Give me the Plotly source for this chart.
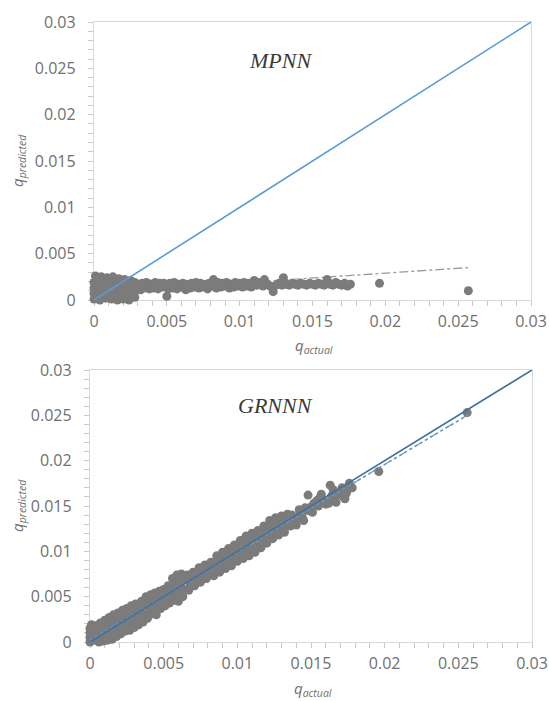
import plotly.graph_objects as go

# ---------------- data ----------------
# MPNN: (q_actual, q_predicted)
mpnn_x = [0.0000, 0.0000, 0.0000, 0.0000, 0.0001,
          0.0004, 0.0004, 0.0005, 0.0004, 0.0005,
          0.0008, 0.0008, 0.0009, 0.0008, 0.0009,
          0.0012, 0.0012, 0.0013, 0.0012, 0.0013,
          0.0016, 0.0016, 0.0017, 0.0016, 0.0017,
          0.0020, 0.0020, 0.0021, 0.0020, 0.0021,
          0.0024, 0.0024, 0.0025, 0.0024, 0.0025,
          0.0028, 0.0028, 0.0029, 0.0028,
          0.0032, 0.0033, 0.0035, 0.0036, 0.0038, 0.0039, 0.0041, 0.0042, 0.0044, 0.0045,
          0.0047, 0.0048, 0.0050, 0.0051, 0.0052, 0.0054, 0.0055, 0.0057, 0.0058, 0.0060,
          0.0061, 0.0063, 0.0064, 0.0066, 0.0067, 0.0069, 0.0070, 0.0072, 0.0073, 0.0075,
          0.0076, 0.0078, 0.0079, 0.0081, 0.0082, 0.0084, 0.0085, 0.0087, 0.0088, 0.0090,
          0.0091, 0.0093, 0.0094, 0.0096, 0.0097, 0.0099, 0.0100, 0.0102, 0.0103, 0.0105,
          0.0106, 0.0108, 0.0110,
          0.0112, 0.0114, 0.0116, 0.0117, 0.0119, 0.0121, 0.0123, 0.0125, 0.0127, 0.0129,
          0.0130, 0.0132, 0.0134, 0.0136, 0.0138, 0.0140, 0.0142, 0.0144, 0.0146, 0.0148,
          0.0150, 0.0152, 0.0154, 0.0156, 0.0158, 0.0160, 0.0162, 0.0164, 0.0166, 0.0168,
          0.0170, 0.0172, 0.0174, 0.0176,
          0.0196, 0.0257]
mpnn_y = [0.0001, 0.0007, 0.0013, 0.0019, 0.0026,
          0.0000, 0.0006, 0.0012, 0.0018, 0.0025,
          0.0002, 0.0008, 0.0014, 0.0020, 0.0024,
          0.0001, 0.0007, 0.0013, 0.0019, 0.0025,
          0.0000, 0.0006, 0.0012, 0.0018, 0.0023,
          0.0001, 0.0007, 0.0013, 0.0019, 0.0022,
          0.0000, 0.0006, 0.0012, 0.0018, 0.0021,
          0.0003, 0.0009, 0.0014, 0.0019,
          0.0011, 0.0018, 0.0013, 0.0019, 0.0012, 0.0017, 0.0013, 0.0019, 0.0012, 0.0018,
          0.0014, 0.0018, 0.0004, 0.0012, 0.0018, 0.0013, 0.0019, 0.0012, 0.0017, 0.0014,
          0.0018, 0.0011, 0.0017, 0.0013, 0.0018, 0.0014, 0.0019, 0.0013, 0.0018, 0.0014,
          0.0017, 0.0012, 0.0018, 0.0015, 0.0022, 0.0013, 0.0019, 0.0014, 0.0018, 0.0015,
          0.0019, 0.0013, 0.0017, 0.0014, 0.0019, 0.0015, 0.0018, 0.0014, 0.0019, 0.0015,
          0.0018, 0.0014, 0.0021,
          0.0016, 0.0019, 0.0015, 0.0022, 0.0017, 0.0015, 0.0009, 0.0016, 0.0018, 0.0016,
          0.0024, 0.0017, 0.0016, 0.0018, 0.0017, 0.0016, 0.0018, 0.0017, 0.0016, 0.0018,
          0.0017, 0.0016, 0.0018, 0.0017, 0.0016, 0.0022, 0.0017, 0.0016, 0.0019, 0.0017,
          0.0016, 0.0018, 0.0015, 0.0017,
          0.0018, 0.0010]
mpnn_trend_x = [0.0, 0.0257]
mpnn_trend_y = [0.0008, 0.0035]

# GRNNN: (q_actual, q_predicted)
grnn_x = [0.0000, 0.0000, 0.0000, 0.0000, 0.0001,
          0.0003, 0.0003, 0.0003, 0.0004,
          0.0006, 0.0006, 0.0006, 0.0007,
          0.0009, 0.0009, 0.0010, 0.0010,
          0.0012, 0.0012, 0.0013, 0.0013,
          0.0015, 0.0015, 0.0016, 0.0016,
          0.0018, 0.0018, 0.0019, 0.0019,
          0.0021, 0.0021, 0.0022, 0.0022,
          0.0024, 0.0024, 0.0025, 0.0025,
          0.0027, 0.0027, 0.0028, 0.0028,
          0.0030, 0.0030, 0.0031, 0.0031,
          0.0033, 0.0033, 0.0034, 0.0035,
          0.0036, 0.0036, 0.0037, 0.0038,
          0.0039, 0.0040, 0.0040, 0.0041,
          0.0042, 0.0043, 0.0043, 0.0044,
          0.0045, 0.0046, 0.0046, 0.0047,
          0.0048, 0.0049, 0.0049, 0.0050,
          0.0051, 0.0052, 0.0052, 0.0053,
          0.0054, 0.0055, 0.0055, 0.0056,
          0.0057, 0.0058, 0.0058, 0.0059,
          0.0060, 0.0061, 0.0061, 0.0062,
          0.0063, 0.0064, 0.0065, 0.0066,
          0.0067, 0.0068, 0.0069, 0.0070,
          0.0071, 0.0072, 0.0073, 0.0074,
          0.0075, 0.0076, 0.0077, 0.0078,
          0.0079, 0.0080, 0.0081, 0.0082,
          0.0084, 0.0085, 0.0084, 0.0086,
          0.0088, 0.0089, 0.0088, 0.0090,
          0.0092, 0.0093, 0.0092, 0.0094,
          0.0096, 0.0097, 0.0096, 0.0098,
          0.0100, 0.0101, 0.0100, 0.0102,
          0.0104, 0.0105, 0.0104, 0.0106,
          0.0108, 0.0109, 0.0108, 0.0110,
          0.0112, 0.0113, 0.0112, 0.0114,
          0.0116, 0.0117, 0.0116, 0.0118,
          0.0120, 0.0121, 0.0120, 0.0122,
          0.0124, 0.0125, 0.0124, 0.0126,
          0.0128, 0.0129, 0.0128, 0.0130,
          0.0132, 0.0133, 0.0132, 0.0134,
          0.0136, 0.0138, 0.0139, 0.0141, 0.0143, 0.0144, 0.0146, 0.0148, 0.0148, 0.0150,
          0.0152, 0.0154, 0.0156, 0.0158, 0.0160, 0.0162, 0.0163, 0.0164, 0.0166, 0.0168,
          0.0170, 0.0172, 0.0173, 0.0175, 0.0176, 0.0178,
          0.0137, 0.0140, 0.0142, 0.0145, 0.0151, 0.0155, 0.0157, 0.0165, 0.0167, 0.0171,
          0.0174,
          0.0196, 0.0256]
grnn_y = [0.0000, 0.0005, 0.0010, 0.0015, 0.0019,
          0.0002, 0.0008, 0.0013, 0.0018,
          0.0000, 0.0006, 0.0012, 0.0021,
          0.0001, 0.0009, 0.0016, 0.0024,
          0.0002, 0.0010, 0.0019, 0.0027,
          0.0003, 0.0011, 0.0022, 0.0030,
          0.0006, 0.0014, 0.0025, 0.0032,
          0.0009, 0.0017, 0.0028, 0.0035,
          0.0012, 0.0020, 0.0031, 0.0037,
          0.0013, 0.0022, 0.0033, 0.0040,
          0.0016, 0.0024, 0.0036, 0.0042,
          0.0019, 0.0028, 0.0038, 0.0045,
          0.0022, 0.0031, 0.0041, 0.0050,
          0.0026, 0.0034, 0.0044, 0.0052,
          0.0031, 0.0037, 0.0047, 0.0054,
          0.0030, 0.0040, 0.0050, 0.0056,
          0.0037, 0.0043, 0.0052, 0.0058,
          0.0040, 0.0046, 0.0055, 0.0062,
          0.0043, 0.0049, 0.0059, 0.0070,
          0.0046, 0.0052, 0.0063, 0.0074,
          0.0045, 0.0055, 0.0066, 0.0075,
          0.0050, 0.0058, 0.0069, 0.0074,
          0.0057, 0.0062, 0.0071, 0.0077,
          0.0062, 0.0066, 0.0074, 0.0082,
          0.0066, 0.0070, 0.0078, 0.0085,
          0.0070, 0.0075, 0.0082, 0.0088,
          0.0073, 0.0080, 0.0088, 0.0095,
          0.0077, 0.0084, 0.0092, 0.0099,
          0.0081, 0.0088, 0.0096, 0.0103,
          0.0084, 0.0092, 0.0100, 0.0107,
          0.0089, 0.0096, 0.0105, 0.0112,
          0.0092, 0.0100, 0.0109, 0.0117,
          0.0095, 0.0103, 0.0112, 0.0120,
          0.0099, 0.0106, 0.0115, 0.0123,
          0.0104, 0.0111, 0.0119, 0.0128,
          0.0109, 0.0116, 0.0125, 0.0134,
          0.0114, 0.0121, 0.0129, 0.0137,
          0.0118, 0.0125, 0.0133, 0.0139,
          0.0121, 0.0128, 0.0135, 0.0141,
          0.0128, 0.0133, 0.0138, 0.0135, 0.0141, 0.0138, 0.0148, 0.0162, 0.0145, 0.0149,
          0.0153, 0.0156, 0.0159, 0.0157, 0.0152, 0.0153, 0.0173, 0.0161, 0.0160, 0.0163,
          0.0164, 0.0160, 0.0158, 0.0168, 0.0175, 0.0170,
          0.0140, 0.0129, 0.0146, 0.0134, 0.0143, 0.0150, 0.0163, 0.0168, 0.0154, 0.0170,
          0.0164,
          0.0188, 0.0253]
grnn_trend_x = [0.0, 0.0257]
grnn_trend_y = [0.0002, 0.0251]

ideal_x = [0.0, 0.03]
ideal_y = [0.0, 0.03]

tick_vals = [0, 0.005, 0.01, 0.015, 0.02, 0.025, 0.03]
tick_text = ["0", "0.005", "0.01", "0.015", "0.02", "0.025", "0.03"]

# ---------------- figure ----------------
W, H = 549, 701


def px(p):
    return p / W


def py(p):
    return 1 - p / H


GREY = "#7b7b7b"
fig = go.Figure()

fig.add_trace(go.Scatter(x=mpnn_trend_x, y=mpnn_trend_y, mode="lines",
                         line=dict(color="#9a9a9a", width=1.3, dash="dashdot"),
                         xaxis="x", yaxis="y", showlegend=False))
fig.add_trace(go.Scatter(x=mpnn_x, y=mpnn_y, mode="markers",
                         marker=dict(size=9, color=GREY), cliponaxis=False,
                         xaxis="x", yaxis="y", showlegend=False))
fig.add_trace(go.Scatter(x=ideal_x, y=ideal_y, mode="lines",
                         line=dict(color="#5B9BD5", width=1.6),
                         xaxis="x", yaxis="y", showlegend=False))

fig.add_trace(go.Scatter(x=grnn_trend_x, y=grnn_trend_y, mode="lines",
                         line=dict(color="#9a9a9a", width=1.3, dash="dashdot"),
                         xaxis="x2", yaxis="y2", showlegend=False))
fig.add_trace(go.Scatter(x=grnn_x, y=grnn_y, mode="markers",
                         marker=dict(size=9, color=GREY), cliponaxis=False,
                         xaxis="x2", yaxis="y2", showlegend=False))
fig.add_trace(go.Scatter(x=grnn_trend_x, y=grnn_trend_y, mode="lines",
                         line=dict(color="#5B9BD5", width=1.4, dash="dot"),
                         xaxis="x2", yaxis="y2", showlegend=False))
fig.add_trace(go.Scatter(x=ideal_x, y=ideal_y, mode="lines",
                         line=dict(color="#41719C", width=1.6),
                         xaxis="x2", yaxis="y2", showlegend=False))

axis_common = dict(range=[0, 0.03], tickvals=tick_vals, ticktext=tick_text,
                   showgrid=False, zeroline=False, showline=True, mirror=True,
                   linecolor="#d9d9d9", linewidth=1.2, automargin=False,
                   ticks="outside", ticklen=5, tickcolor="#c8c8c8", tickwidth=1,
                   minor=dict(dtick=0.001, ticks="outside", ticklen=5,
                              tickcolor="#c8c8c8", tickwidth=1),
                   tickfont=dict(family="Open Sans", size=16, color="#707070"),
                   layer="below traces", fixedrange=True)
xcommon = dict(axis_common, ticklabelstandoff=2)
ycommon = dict(axis_common, ticklabelstandoff=9)

fig.update_layout(
    width=W, height=H,
    margin=dict(l=0, r=0, t=0, b=0, autoexpand=False),
    paper_bgcolor="white", plot_bgcolor="white",
    hovermode=False,
    xaxis=dict(domain=[px(94), px(531)], anchor="y", **xcommon),
    yaxis=dict(domain=[py(300), py(22)], anchor="x", **ycommon),
    xaxis2=dict(domain=[px(90), px(532)], anchor="y2", **xcommon),
    yaxis2=dict(domain=[py(642), py(370)], anchor="x2", **ycommon),
)

title_font = dict(family="Open Sans", size=15, color="#707070")
label_font = dict(family="Liberation Serif", size=22, color="#3a3a3a")
ann = [
    dict(text="<i>q<sub>predicted</sub></i>", x=px(18), y=py(161), textangle=-90),
    dict(text="<i>q<sub>actual</sub></i>", x=px(314), y=py(346)),
    dict(text="<i>q<sub>predicted</sub></i>", x=px(18), y=py(506), textangle=-90),
    dict(text="<i>q<sub>actual</sub></i>", x=px(313), y=py(689)),
]
for a in ann:
    fig.add_annotation(xref="paper", yref="paper", showarrow=False,
                       xanchor="center", yanchor="middle", font=title_font, **a)
fig.add_annotation(text="<i>MPNN</i>", x=0.0128, y=0.0258, xref="x", yref="y",
                   showarrow=False, font=label_font)
fig.add_annotation(text="<i>GRNNN</i>", x=0.0126, y=0.0261, xref="x2", yref="y2",
                   showarrow=False, font=label_font)

# remove the default 8px page margin so the figure fills the 549x701 window exactly
fig.write_html("out.html",
               config={"displayModeBar": False, "staticPlot": True},
               post_script="document.body.style.margin='0';"
                           "document.body.style.overflow='hidden';")
